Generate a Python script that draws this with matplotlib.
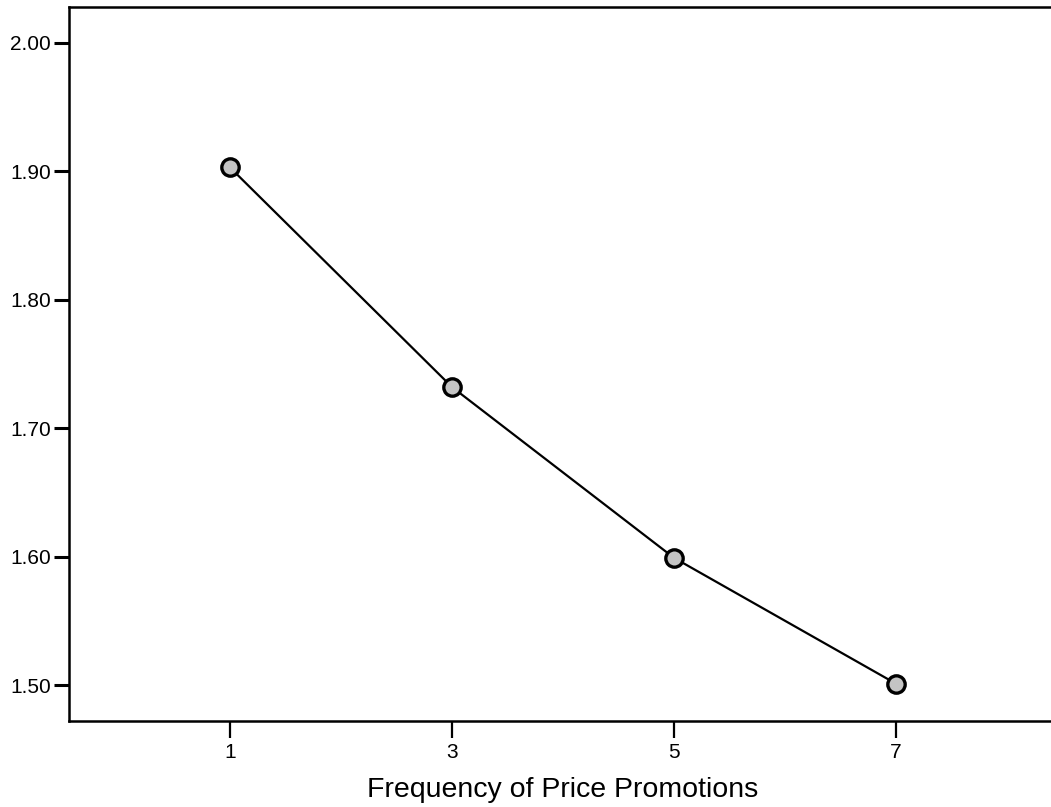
import matplotlib
matplotlib.use("Agg")
import matplotlib.pyplot as plt

# frequency of price promotions vs. mean
freq = [1, 3, 5, 7]
means = [1.903, 1.732, 1.599, 1.501]
xticks = [1, 3, 5, 7]
yticks = [1.50, 1.60, 1.70, 1.80, 1.90, 2.00]

plt.rcParams['font.family'] = ['Liberation Sans', 'DejaVu Sans']

fig = plt.figure(figsize=(10.51, 8.07), dpi=100)
ax = fig.add_axes([0.0657, 0.1066, 0.940, 0.8848])

ax.plot(freq, means, color='black', lw=1.6, marker='o', ms=12.5,
        mfc='#c4c4c4', mec='black', mew=2.4, zorder=3)

ax.set_xlim(-0.45, 8.45)
ax.set_ylim(1.472, 2.028)
ax.set_xticks(xticks)
ax.set_yticks(yticks)
ax.set_yticklabels([f"{v:.2f}" for v in yticks])
ax.tick_params(axis='y', direction='out', length=11, width=2.2, labelsize=15, pad=2)
ax.tick_params(axis='x', direction='out', length=12, width=1.6, labelsize=15, pad=4)
for s in ax.spines.values():
    s.set_linewidth(1.8)
ax.spines['right'].set_visible(False)

ax.set_xlabel("Frequency of Price Promotions", fontsize=20.5, labelpad=11)

fig.savefig("out.png", dpi=100)
